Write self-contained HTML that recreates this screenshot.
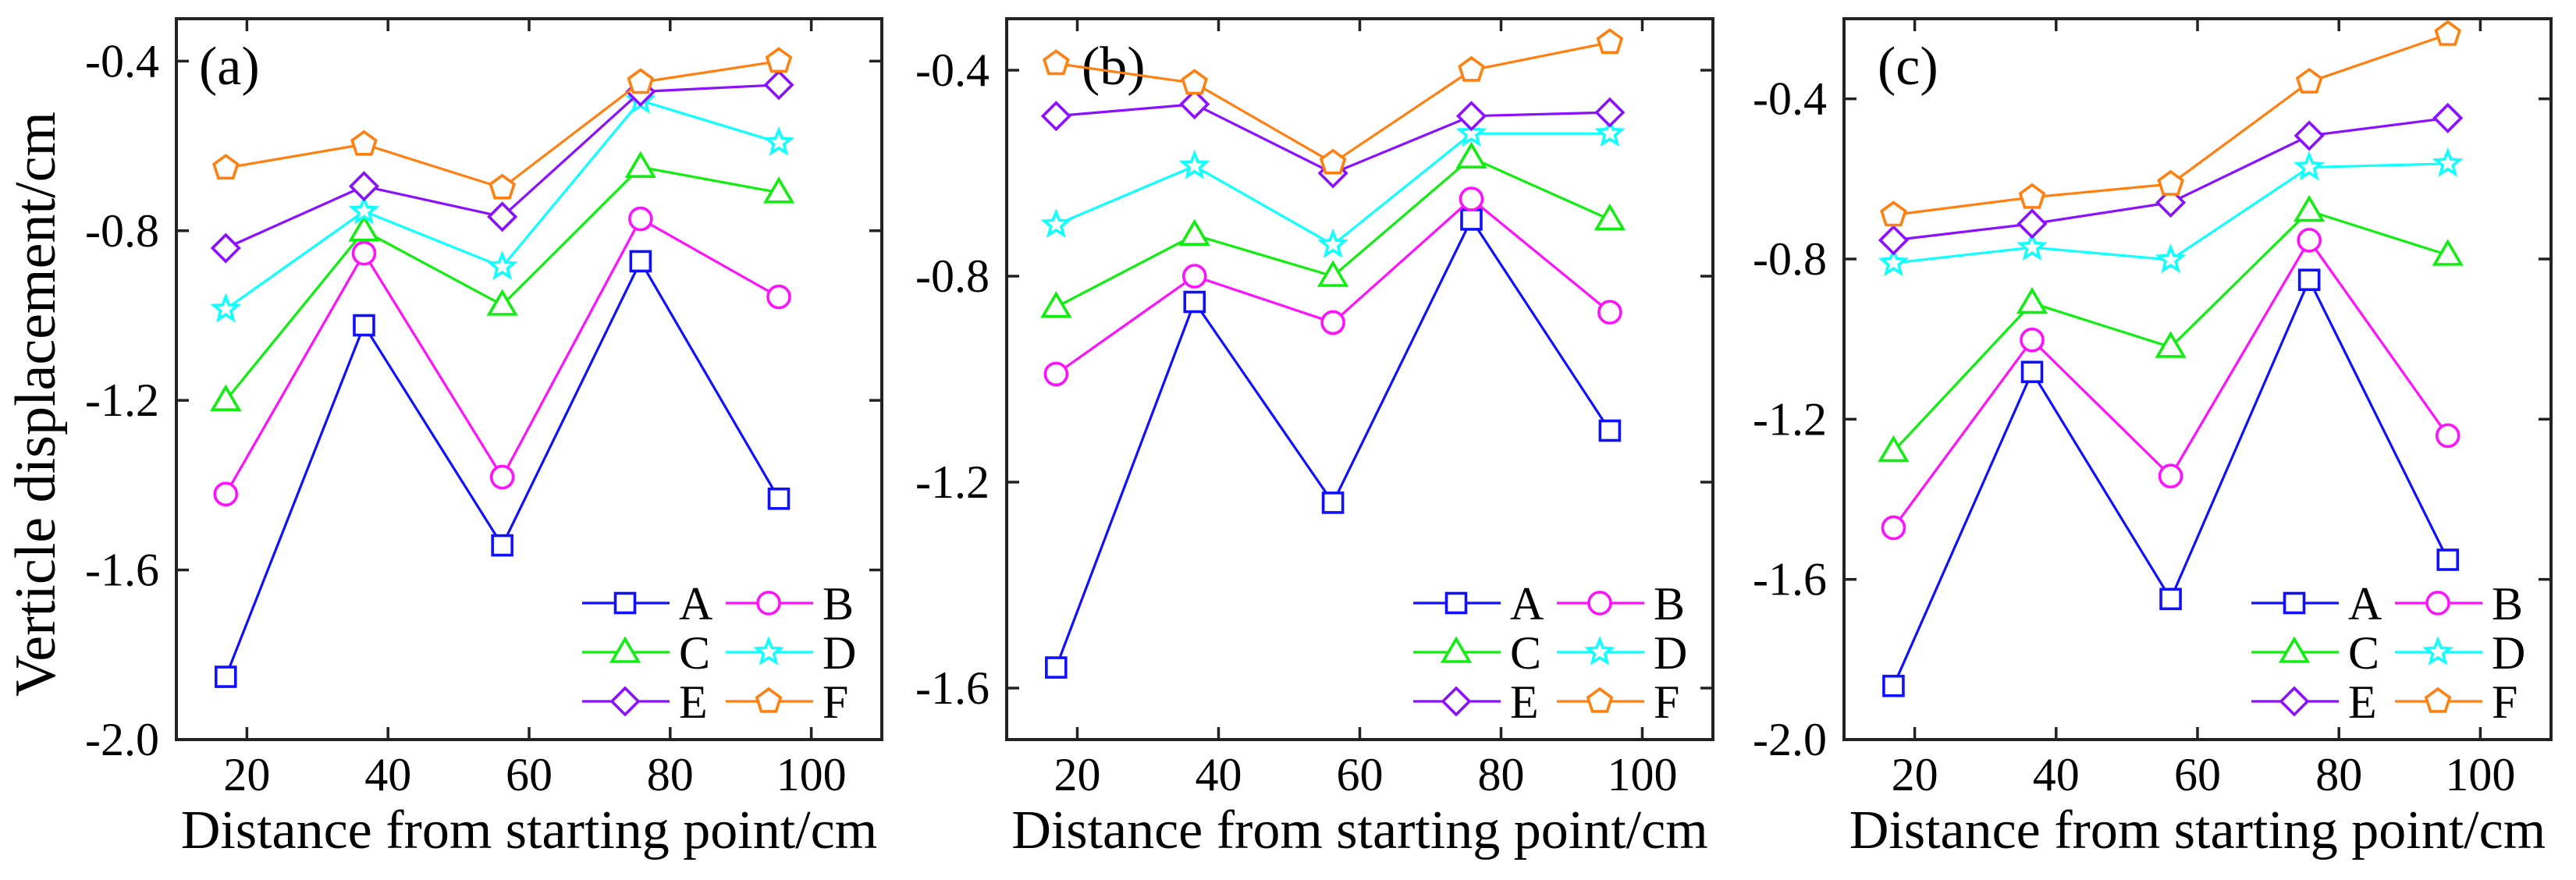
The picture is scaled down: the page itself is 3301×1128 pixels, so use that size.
<!DOCTYPE html>
<html><head><meta charset="utf-8"><style>
html,body{margin:0;padding:0;background:#fff;}
svg{display:block;}
svg text{font-family:"Liberation Serif","DejaVu Serif","Times New Roman",serif;}
</style></head><body>
<svg id="chart" width="3301" height="1128" viewBox="0 0 3301 1128" xmlns="http://www.w3.org/2000/svg" font-family="Liberation Serif, DejaVu Serif, serif">
<text transform="translate(70,518) rotate(-90)" text-anchor="middle" font-size="74" font-family="Liberation Serif, DejaVu Serif, serif">Verticle displacement/cm</text>
</svg>
<script>
const xPositions = [17, 36.6, 56.2, 75.8, 95.4];
const seriesNames = ["A","B","C","D","E","F"];
const seriesColors = ["#1010ff","#ff10ff","#10ee10","#10ffff","#8a10ff","#ff8010"];
const markerShapes = ["square","circle","triangle","star","diamond","pentagon"];
const xTicks = [20,40,60,80,100];
// panel (a)
const aA = [-1.852,-1.023,-1.542,-0.872,-1.432];
const aB = [-1.421,-0.853,-1.381,-0.772,-0.956];
const aC = [-1.20,-0.80,-0.975,-0.65,-0.71];
const aD = [-0.985,-0.754,-0.885,-0.493,-0.592];
const aE = [-0.841,-0.695,-0.767,-0.472,-0.456];
const aF = [-0.652,-0.596,-0.699,-0.45,-0.40];
// panel (b)
const bA = [-1.56,-0.85,-1.24,-0.69,-1.10];
const bB = [-0.99,-0.80,-0.89,-0.65,-0.87];
const bC = [-0.86,-0.72,-0.80,-0.57,-0.69];
const bD = [-0.70,-0.586,-0.739,-0.523,-0.523];
const bE = [-0.489,-0.466,-0.60,-0.489,-0.482];
const bF = [-0.387,-0.425,-0.58,-0.40,-0.346];
// panel (c)
const cA = [-1.866,-1.082,-1.649,-0.852,-1.551];
const cB = [-1.471,-1.002,-1.342,-0.753,-1.241];
const cC = [-1.28,-0.91,-1.02,-0.68,-0.79];
const cD = [-0.81,-0.771,-0.802,-0.571,-0.562];
const cE = [-0.753,-0.712,-0.659,-0.492,-0.448];
const cF = [-0.69,-0.646,-0.613,-0.358,-0.239];
const aYTicks = [-2.0,-1.6,-1.2,-0.8,-0.4];
const bYTicks = [-1.6,-1.2,-0.8,-0.4];
const cYTicks = [-2.0,-1.6,-1.2,-0.8,-0.4];
const aYRange = [-2.0,-0.3];
const bYRange = [-1.7,-0.3];
const cYRange = [-2.0,-0.2];
const xRange = [10,110];

const NS="http://www.w3.org/2000/svg";
const svg=document.getElementById('chart');
const FONT="Liberation Serif, DejaVu Serif, serif";
function mk(tag,attrs,parent){const e=document.createElementNS(NS,tag);for(const k in attrs)e.setAttribute(k,attrs[k]);if(tag==='text')e.setAttribute('font-family',FONT);(parent||svg).appendChild(e);return e;}

function marker(g,shape,cx,cy,color){
  let e;const s=12.5;
  if(shape==="square") e=mk('rect',{x:cx-s,y:cy-s,width:2*s,height:2*s},g);
  else if(shape==="circle") e=mk('circle',{cx:cx,cy:cy,r:14},g);
  else if(shape==="triangle") e=mk('polygon',{points:`${cx},${cy-17} ${cx+17},${cy+12} ${cx-17},${cy+12}`},g);
  else if(shape==="diamond") e=mk('polygon',{points:`${cx},${cy-17} ${cx+17},${cy} ${cx},${cy+17} ${cx-17},${cy}`},g);
  else if(shape==="star"){let p=[];for(let i=0;i<10;i++){const r=i%2?7:16;const a=-Math.PI/2+i*Math.PI/5;p.push((cx+r*Math.cos(a)).toFixed(1)+","+(cy+r*Math.sin(a)).toFixed(1));}e=mk('polygon',{points:p.join(' ')},g);}
  else {let p=[];for(let i=0;i<5;i++){const a=-Math.PI/2+i*2*Math.PI/5;p.push((cx+16*Math.cos(a)).toFixed(1)+","+(cy+16*Math.sin(a)).toFixed(1));}e=mk('polygon',{points:p.join(' ')},g);}
  e.setAttribute('fill','#fff');e.setAttribute('stroke',color);e.setAttribute('stroke-width','3.6');
  
  
}

function panel(id,left,right,yRange,yTicks,data,label,labelX){
  const top=24,bottom=948;
  const g=mk('g',{});
  
  
  const X=v=>left+(v-xRange[0])/(xRange[1]-xRange[0])*(right-left);
  const Y=v=>bottom-(v-yRange[0])/(yRange[1]-yRange[0])*(bottom-top);
  yTicks.forEach(t=>{
    const y=Y(t);
    const l1=mk('line',{x1:left,x2:left+16,y1:y,y2:y,stroke:'#222','stroke-width':3.5},g);
    
    const l2=mk('line',{x1:right,x2:right-16,y1:y,y2:y,stroke:'#222','stroke-width':3.5},g);
    
    const tx=mk('text',{x:left-22,y:y+20,'text-anchor':'end','font-size':60},g);
    tx.textContent=t.toFixed(1);
    
  });
  xTicks.forEach(t=>{
    const x=X(t);
    const l1=mk('line',{x1:x,x2:x,y1:bottom,y2:bottom-16,stroke:'#222','stroke-width':3.5},g);
    
    const l2=mk('line',{x1:x,x2:x,y1:top,y2:top+16,stroke:'#222','stroke-width':3.5},g);
    
    const tx=mk('text',{x:x,y:1013,'text-anchor':'middle','font-size':60},g);
    tx.textContent=t;
    
  });
  const fr=mk('rect',{x:left,y:top,width:right-left,height:bottom-top,fill:'none',stroke:'#222','stroke-width':4},g);
  
  const xt=mk('text',{x:(left+right)/2,y:1087,'text-anchor':'middle','font-size':70},g);
  xt.textContent='Distance from starting point/cm';
  
  const pl=mk('text',{x:labelX,y:108,'font-size':70},g);
  pl.textContent=label;
  
  data.forEach((vals,si)=>{
    const sg=mk('g',{},g);
    
    
    const pts=vals.map((v,i)=>X(xPositions[i]).toFixed(1)+','+Y(v).toFixed(1)).join(' ');
    const pol=mk('polyline',{points:pts,fill:'none',stroke:seriesColors[si],'stroke-width':3.2},sg);
    
    vals.forEach((v,i)=>marker(sg,markerShapes[si],X(xPositions[i]),Y(v),seriesColors[si]));
  });
  const lg=mk('g',{},g);
  
  
  const rows=[773,836,899];
  seriesNames.forEach((n,si)=>{
    const col=si%2,row=Math.floor(si/2);
    const x0=right-384+col*184,y=rows[row];
    const eg=mk('g',{},lg);
    
    
    mk('line',{x1:x0,x2:x0+112,y1:y,y2:y,stroke:seriesColors[si],'stroke-width':3.2},eg);
    marker(eg,markerShapes[si],x0+55,y,seriesColors[si]);
    const t=mk('text',{x:x0+124,y:y+21,'font-size':60},eg);
    t.textContent=n;
    
  });
}
panel('a',226,1130,aYRange,aYTicks,[aA,aB,aC,aD,aE,aF],'(a)',255);
panel('b',1290,2195,bYRange,bYTicks,[bA,bB,bC,bD,bE,bF],'(b)',1386);
panel('c',2363,3269,cYRange,cYTicks,[cA,cB,cC,cD,cE,cF],'(c)',2406);
</script>
</body></html>
